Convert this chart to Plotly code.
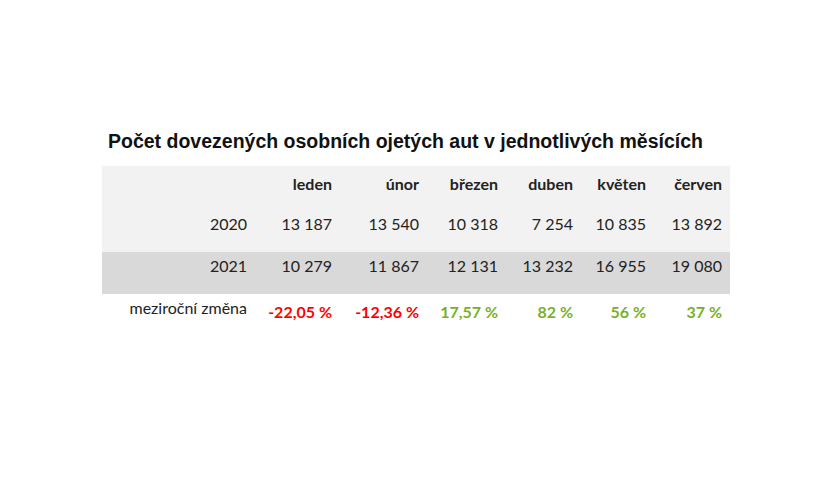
import plotly.graph_objects as go

months = ["leden", "únor", "březen", "duben", "květen", "červen"]
row_labels = ["2020", "2021", "meziroční změna"]
v2020 = ["13 187", "13 540", "10 318", "7 254", "10 835", "13 892"]
v2021 = ["10 279", "11 867", "12 131", "13 232", "16 955", "19 080"]
change = ["-22,05 %", "-12,36 %", "17,57 %", "82 %", "56 %", "37 %"]
title = "Počet dovezených osobních ojetých aut v jednotlivých měsících"

RED, GREEN = "#ff0000", "#77b12a"
chg_colors = [RED if c.startswith("-") else GREEN for c in change]

header = [""] + [f"<b>{m}</b>" for m in months]
cols = [row_labels] + [[a, b, f"<b>{c}</b>"] for a, b, c in zip(v2020, v2021, change)]
font_colors = [["#222"] * 3] + [["#222", "#222", c] for c in chg_colors]
fill = [["#f2f2f2", "#d9d9d9", "#ffffff"]] * 7

fig = go.Figure(go.Table(
    domain=dict(x=[94/840, 722/840], y=[0.26, 1 - 158/480]),
    columnwidth=[153, 85, 87, 79, 75, 73, 76],
    header=dict(values=header, align="right", height=44, fill_color="#f2f2f2",
                line_color="rgba(0,0,0,0)",
                font=dict(family="Lato", size=16, color="#222")),
    cells=dict(values=cols, align="right", height=42, fill_color=fill,
               line_color="rgba(0,0,0,0)",
               font=dict(family="Lato", size=16, color=font_colors)),
))
fig.add_annotation(text=f"<b>{title}</b>", x=98/840, y=1 - 133/480, xref="paper", yref="paper",
                   xanchor="left", yanchor="middle", showarrow=False,
                   font=dict(family="Liberation Sans", size=19.5, color="#111"))
fig.update_layout(width=840, height=480, margin=dict(l=0, r=0, t=0, b=0),
                  paper_bgcolor="white", plot_bgcolor="white")
fig.write_html("out.html")
